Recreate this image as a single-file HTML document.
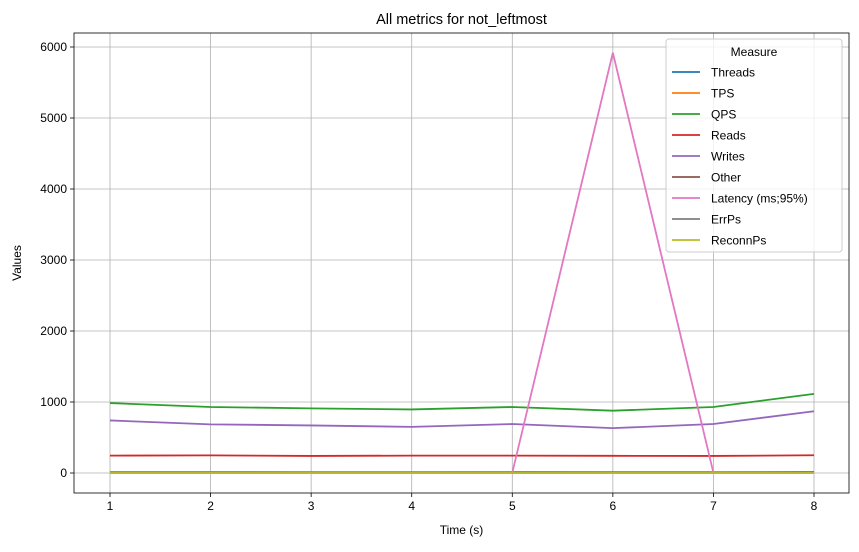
<!DOCTYPE html>
<html><head><meta charset="utf-8"><style>
body{margin:0;background:#fff;font-family:"Liberation Sans",sans-serif;}
svg text{font-family:"Liberation Sans",sans-serif;fill:#000;}
</style></head><body>
<svg id="chart" width="859" height="547"></svg>
<script>
const times=[1,2,3,4,5,6,7,8];
const threads=[8,8,8,8,8,8,8,8];
const tps=[12,12,11,11,12,11,11,14];
const qps=[985,930,910,895,930,878,930,1115];
const reads=[245,248,240,245,245,242,240,250];
const writes=[740,685,670,650,690,632,690,870];
const other=[10,10,10,10,10,10,10,12];
const latency=[3,3,3,3,3,5920,3,3];
const errps=[0,0,0,0,0,0,0,0];
const reconnps=[0,0,0,0,0,0,0,0];
const xTicks=[1,2,3,4,5,6,7,8];
const yTicks=[0,1000,2000,3000,4000,5000,6000];
const seriesNames=["Threads","TPS","QPS","Reads","Writes","Other","Latency (ms;95%)","ErrPs","ReconnPs"];
const seriesVals=[threads,tps,qps,reads,writes,other,latency,errps,reconnps];
const colors=["#1f77b4","#ff7f0e","#2ca02c","#d62728","#9467bd","#8c564b","#e377c2","#7f7f7f","#bcbd22"];
const L=74,R=849,T=33,B=493;
const xs=v=>110+(v-1)*(814-110)/7;
const ys=v=>473-v*(473-47)/6000;
const svg=document.getElementById('chart');
const NS="http://www.w3.org/2000/svg";
function mk(tag,attrs,parent){const e=document.createElementNS(NS,tag);for(const k in attrs)e.setAttribute(k,attrs[k]);(parent||svg).appendChild(e);return e;}
xTicks.forEach(t=>{
 const g=mk('line',{x1:xs(t),x2:xs(t),y1:T,y2:B,stroke:'#b0b0b0','stroke-width':0.8});
 
 mk('line',{x1:xs(t),x2:xs(t),y1:B,y2:B+4,stroke:'#000','stroke-width':0.8});
 const tx=mk('text',{x:xs(t),y:B+17,'text-anchor':'middle','font-size':12});tx.textContent=t;
 
});
yTicks.forEach(t=>{
 const g=mk('line',{x1:L,x2:R,y1:ys(t),y2:ys(t),stroke:'#b0b0b0','stroke-width':0.8});
 
 mk('line',{x1:L-4,x2:L,y1:ys(t),y2:ys(t),stroke:'#000','stroke-width':0.8});
 const tx=mk('text',{x:L-7,y:ys(t)+4,'text-anchor':'end','font-size':12});tx.textContent=t;
 
});
seriesVals.forEach((vals,i)=>{
 const p=mk('polyline',{points:vals.map((v,j)=>xs(times[j])+','+ys(v)).join(' '),fill:'none',stroke:colors[i],'stroke-width':1.8});
 
 
});
const fr=mk('rect',{x:L,y:T,width:R-L,height:B-T,fill:'none',stroke:'#000','stroke-width':0.8});

const ti=mk('text',{x:(L+R)/2,y:24,'text-anchor':'middle','font-size':14.5});ti.textContent='All metrics for not_leftmost';

const xl=mk('text',{x:(L+R)/2,y:534,'text-anchor':'middle','font-size':12});xl.textContent='Time (s)';

const yl=mk('text',{x:21,y:263,'text-anchor':'middle','font-size':12,transform:'rotate(-90 21 263)'});yl.textContent='Values';

const lg=mk('g',{});

mk('rect',{x:666,y:39,width:176,height:213,rx:3,fill:'#fff','fill-opacity':0.8,stroke:'#ccc'},lg);
const lt=mk('text',{x:754,y:56,'text-anchor':'middle','font-size':12},lg);lt.textContent='Measure';
seriesNames.forEach((n,i)=>{
 const y=72+i*21;
 const e=mk('g',{},lg);
 
 mk('line',{x1:672,x2:700,y1:y,y2:y,stroke:colors[i],'stroke-width':1.8},e);
 const t=mk('text',{x:711,y:y+4.5,'font-size':12},e);t.textContent=n;
});
</script>
</body></html>
